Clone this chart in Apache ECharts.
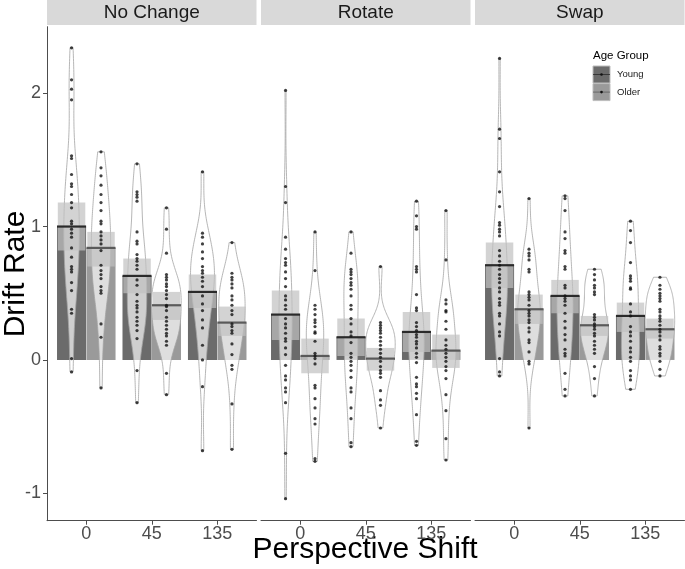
<!DOCTYPE html>
<html><head><meta charset="utf-8">
<script src="https://cdn.jsdelivr.net/npm/echarts@6/dist/echarts.min.js"></script>
<style>html,body{margin:0;padding:0;background:#fff}#c{width:685px;height:569px}</style>
</head><body><div id="c"></div><script>
const panels = ['No Change', 'Rotate', 'Swap'];
const shiftLabels = ['0', '45', '135'];
const groups = ['Young', 'Older'];
const yTicks = [-1, 0, 1, 2];

// per panel (No Change, Rotate, Swap), per shift (0, 45, 135)
const meanYoung   = [[1.00, 0.63, 0.51], [0.34, 0.17, 0.21], [0.71, 0.48, 0.33]];
const meanOlder   = [[0.84, 0.41, 0.28], [0.03, 0.01, 0.07], [0.38, 0.26, 0.23]];
const ciLowYoung  = [[0.82, 0.50, 0.39], [0.15, 0.03, 0.06], [0.54, 0.35, 0.21]];
const ciHighYoung = [[1.18, 0.76, 0.64], [0.52, 0.31, 0.36], [0.88, 0.60, 0.43]];
const ciLowOlder  = [[0.70, 0.30, 0.18], [-0.10, -0.08, -0.06], [0.27, 0.18, 0.16]];
const ciHighOlder = [[0.96, 0.51, 0.40], [0.16, 0.09, 0.19], [0.49, 0.33, 0.31]];

const noChangeYoung = [
  [2.34,2.10,2.03,1.95,1.53,1.51,1.39,1.32,1.30,1.24,1.18,1.14,1.04,1.02,0.98,0.95,0.92,0.84,0.77,0.70,0.68,0.66,0.58,0.52,0.38,0.35,0.01,-0.09],
  [1.47,1.26,1.24,1.22,1.19,0.96,0.89,0.87,0.79,0.76,0.74,0.71,0.68,0.60,0.56,0.49,0.44,0.41,0.39,0.36,0.32,0.29,0.26,0.22,0.16,-0.08,-0.32],
  [1.41,0.95,0.92,0.87,0.81,0.76,0.70,0.67,0.65,0.62,0.59,0.55,0.48,0.42,0.37,0.30,0.24,0.11,0.00,-0.20,-0.68]
];
const noChangeOlder = [
  [1.56,1.44,1.38,1.31,1.24,1.18,1.12,1.04,1.02,0.96,0.93,0.90,0.87,0.82,0.71,0.67,0.64,0.61,0.55,0.52,0.50,0.27,0.17,-0.21],
  [1.14,0.98,0.80,0.64,0.62,0.60,0.57,0.55,0.52,0.49,0.46,0.41,0.40,0.37,0.32,0.29,0.26,0.23,0.20,0.18,0.14,0.11,-0.10,-0.26],
  [0.88,0.65,0.62,0.60,0.57,0.54,0.48,0.45,0.41,0.37,0.34,0.27,0.25,0.22,0.20,0.12,0.04,-0.04,-0.07,-0.33,-0.67]
];
const rotateYoung = [
  [2.02,1.30,1.18,0.92,0.83,0.76,0.73,0.71,0.66,0.61,0.55,0.48,0.45,0.41,0.38,0.31,0.27,0.24,0.20,0.16,0.14,0.09,0.04,-0.04,-0.12,-0.15,-0.21,-0.24,-0.32,-0.70,-1.04],
  [0.96,0.80,0.68,0.66,0.64,0.61,0.58,0.56,0.53,0.48,0.41,0.38,0.31,0.27,0.21,0.18,0.13,0.05,0.02,-0.01,-0.04,-0.08,-0.13,-0.21,-0.24,-0.36,-0.44,-0.62,-0.65],
  [1.19,1.08,1.00,0.98,0.70,0.68,0.66,0.49,0.39,0.37,0.28,0.25,0.22,0.19,0.17,0.14,0.12,0.09,0.05,0.02,-0.02,-0.13,-0.18,-0.20,-0.25,-0.29,-0.41,-0.61,-0.64]
];
const rotateOlder = [
  [0.96,0.67,0.41,0.38,0.34,0.30,0.28,0.25,0.21,0.20,0.14,0.05,0.03,0.01,-0.03,-0.19,-0.21,-0.29,-0.36,-0.44,-0.48,-0.74,-0.76],
  [0.70,0.28,0.26,0.24,0.22,0.20,0.17,0.14,0.11,0.08,0.05,0.02,-0.01,-0.05,-0.08,-0.10,-0.13,-0.23,-0.30,-0.34,-0.51],
  [1.12,0.75,0.45,0.42,0.37,0.36,0.29,0.23,0.15,0.11,0.08,0.05,0.02,-0.01,-0.05,-0.08,-0.14,-0.26,-0.38,-0.59,-0.75]
];
const swapYoung = [
  [2.26,1.73,1.66,1.41,1.26,1.15,1.03,1.01,0.98,0.96,0.93,0.82,0.78,0.74,0.71,0.68,0.64,0.61,0.58,0.54,0.51,0.46,0.43,0.41,0.35,0.33,0.27,0.21,0.18,0.01,-0.09,-0.12],
  [1.23,1.21,1.12,0.96,0.91,0.82,0.80,0.70,0.68,0.56,0.54,0.48,0.46,0.44,0.41,0.35,0.29,0.24,0.19,0.15,0.08,0.05,0.03,-0.10,-0.22,-0.27],
  [1.04,0.97,0.88,0.73,0.63,0.61,0.59,0.54,0.53,0.42,0.36,0.33,0.25,0.21,0.18,0.14,0.09,0.06,0.02,-0.01,-0.08,-0.12,-0.15,-0.22]
];
const swapOlder = [
  [1.21,0.83,0.80,0.78,0.75,0.68,0.66,0.51,0.49,0.47,0.45,0.41,0.37,0.35,0.33,0.30,0.28,0.24,0.21,0.15,0.13,0.06,-0.01,-0.03,-0.51],
  [0.68,0.64,0.60,0.56,0.54,0.51,0.49,0.34,0.32,0.30,0.27,0.25,0.23,0.20,0.18,0.14,0.11,0.08,0.05,-0.05,-0.14,-0.27],
  [0.62,0.56,0.53,0.50,0.48,0.46,0.44,0.38,0.36,0.33,0.31,0.29,0.26,0.23,0.21,0.18,0.15,0.10,0.08,0.05,0.03,-0.01,-0.07,-0.12]
];

const pointsByPanel = [[noChangeYoung, noChangeOlder], [rotateYoung, rotateOlder], [swapYoung, swapOlder]];

// ---------- derived shapes (kernel density, ggplot-like) ----------
function quantile(sorted, p) {
  const h = (sorted.length - 1) * p, lo = Math.floor(h), hi = Math.ceil(h);
  return sorted[lo] + (h - lo) * (sorted[hi] - sorted[lo]);
}
function bwNrd0(x) {
  const n = x.length, m = x.reduce((a, b) => a + b, 0) / n;
  const sd = Math.sqrt(x.reduce((a, b) => a + (b - m) * (b - m), 0) / (n - 1));
  const s = x.slice().sort((a, b) => a - b);
  const iqr = quantile(s, 0.75) - quantile(s, 0.25);
  let lo = Math.min(sd, iqr / 1.34);
  if (!(lo > 0)) lo = sd || 1;
  return 0.9 * lo * Math.pow(n, -0.2);
}
function kde(x, nPts) {
  const bw = bwNrd0(x), n = x.length;
  const mn = Math.min(...x), mx = Math.max(...x);
  const out = [];
  for (let i = 0; i < nPts; i++) {
    const y = mn + (mx - mn) * i / (nPts - 1);
    let d = 0;
    for (const v of x) { const z = (y - v) / bw; d += Math.exp(-0.5 * z * z); }
    out.push([y, d / (n * bw * Math.sqrt(2 * Math.PI))]);
  }
  return out;
}
const DODGE = 0.225;
function groupX(s, g) { return s + (g ? DODGE : -DODGE); }

const violinShapes = pointsByPanel.map(pp => {
  const dens = [0, 1, 2].map(s => [0, 1].map(g => kde(pp[g][s], 120)));
  let maxD = 0;
  dens.forEach(a => a.forEach(d => d.forEach(q => { if (q[1] > maxD) maxD = q[1]; })));
  return dens.map((a, s) => a.map((d, g) => {
    const xc = groupX(s, g);
    const right = d.map(q => [xc + DODGE * q[1] / maxD, q[0]]);
    const left = d.slice().reverse().map(q => [xc - DODGE * q[1] / maxD, q[0]]);
    return right.concat(left);
  }));
});

// ---------- layout ----------
const gridLefts = [47, 261, 475];
const gridW = 209.5;
const gridTop = 26.7, gridH = 494;
const Y_MIN = -1.205, Y_MAX = 2.498;
const FONT = '"Liberation Sans", Arial, sans-serif';
const barFill = ['#6b6b6b', '#9a9a9a'];
const meanStroke = ['#2a2a2a', '#5a5a5a'];
const axisCol = '#4d4d4d';

const grids = [], xAxes = [], yAxes = [], series = [];
panels.forEach((name, p) => {
  grids.push({ left: gridLefts[p], top: gridTop, width: gridW, height: gridH, containLabel: false, outerBoundsMode: 'none' });
  xAxes.push({
    type: 'value', gridIndex: p, min: -0.6, max: 2.6,
    axisLine: { show: true, onZero: false, lineStyle: { color: axisCol, width: 1 } },
    axisTick: { show: true, length: 4, customValues: [0, 1, 2], lineStyle: { color: axisCol } },
    axisLabel: { show: true, customValues: [0, 1, 2], formatter: v => shiftLabels[Math.round(v)], fontSize: 18, color: axisCol, fontFamily: FONT, margin: 4 },
    splitLine: { show: false }
  });
  yAxes.push({
    type: 'value', gridIndex: p, min: Y_MIN, max: Y_MAX,
    axisLine: { show: p === 0, onZero: false, lineStyle: { color: axisCol, width: 1 } },
    axisTick: { show: p === 0, length: 4, customValues: yTicks, lineStyle: { color: axisCol } },
    axisLabel: { show: p === 0, customValues: yTicks, formatter: v => String(Math.round(v)), fontSize: 18, color: axisCol, fontFamily: FONT, margin: 6 },
    splitLine: { show: false }
  });

  const means = [meanYoung[p], meanOlder[p]];
  const lows = [ciLowYoung[p], ciLowOlder[p]];
  const highs = [ciHighYoung[p], ciHighOlder[p]];
  const items = [];
  [0, 1, 2].forEach(s => [0, 1].forEach(g => items.push([s, g, means[g][s], lows[g][s], highs[g][s]])));
  const common = { type: 'custom', xAxisIndex: p, yAxisIndex: p, silent: true, animation: false, data: items, encode: { x: 0, y: 2 } };

  series.push(Object.assign({}, common, {
    renderItem: (params, api) => {
      const s = api.value(0), g = api.value(1), m = api.value(2), xc = groupX(s, g);
      const a = api.coord([xc - 0.222, m]), b = api.coord([xc + 0.222, 0]);
      return { type: 'rect', shape: { x: a[0], y: Math.min(a[1], b[1]), width: b[0] - a[0], height: Math.abs(b[1] - a[1]) }, style: { fill: barFill[g] } };
    }
  }));
  series.push(Object.assign({}, common, {
    renderItem: (params, api) => {
      const s = api.value(0), g = api.value(1);
      const pts = violinShapes[p][s][g].map(q => api.coord(q));
      return { type: 'polygon', shape: { points: pts }, style: { fill: 'rgba(255,255,255,0.68)', stroke: '#a3a3a3', lineWidth: 0.8 } };
    }
  }));
  series.push(Object.assign({}, common, {
    renderItem: (params, api) => {
      const s = api.value(0), g = api.value(1), xc = groupX(s, g);
      const a = api.coord([xc - 0.21, api.value(4)]), b = api.coord([xc + 0.21, api.value(3)]);
      return { type: 'rect', shape: { x: a[0], y: a[1], width: b[0] - a[0], height: b[1] - a[1] }, style: { fill: 'rgba(192,192,192,0.7)' } };
    }
  }));
  series.push(Object.assign({}, common, {
    renderItem: (params, api) => {
      const s = api.value(0), g = api.value(1), xc = groupX(s, g), m = api.value(2);
      const a = api.coord([xc - 0.222, m]), b = api.coord([xc + 0.222, m]);
      return { type: 'line', shape: { x1: a[0], y1: a[1], x2: b[0], y2: b[1] }, style: { stroke: meanStroke[g], lineWidth: 2.2 } };
    }
  }));
  const pts = [];
  [0, 1].forEach(g => [0, 1, 2].forEach(s => pointsByPanel[p][g][s].forEach(v => pts.push([groupX(s, g), v]))));
  series.push({ type: 'scatter', xAxisIndex: p, yAxisIndex: p, silent: true, animation: false, data: pts, symbol: 'circle', symbolSize: 3.2, itemStyle: { color: '#111', borderWidth: 0 } });
});

// ---------- strips, titles, legend ----------
const graphic = [];
panels.forEach((name, p) => {
  graphic.push({ type: 'rect', shape: { x: gridLefts[p], y: 0, width: gridW, height: 25 }, style: { fill: '#d9d9d9' }, silent: true });
  graphic.push({ type: 'text', x: gridLefts[p] + gridW / 2, y: 13, style: { text: name, fontSize: 19, fontFamily: FONT, fill: '#1a1a1a', align: 'center', verticalAlign: 'middle' }, silent: true });
});
graphic.push({ type: 'text', x: 365, y: 550, style: { text: 'Perspective Shift', fontSize: 30, fontFamily: FONT, fill: '#000', align: 'center', verticalAlign: 'middle' }, silent: true });
graphic.push({ type: 'text', x: 16, y: 274, rotation: Math.PI / 2, style: { text: 'Drift Rate', fontSize: 30, fontFamily: FONT, fill: '#000', align: 'center', verticalAlign: 'middle' }, silent: true });
graphic.push({ type: 'text', x: 593, y: 56, style: { text: 'Age Group', fontSize: 11.5, fontFamily: FONT, fill: '#000', align: 'left', verticalAlign: 'middle' }, silent: true });
groups.forEach((gname, g) => {
  const y0 = 66 + g * 17.6;
  graphic.push({ type: 'rect', shape: { x: 593, y: y0, width: 17, height: 17 }, style: { fill: barFill[g], stroke: '#bdbdbd', lineWidth: 1 }, silent: true });
  graphic.push({ type: 'line', shape: { x1: 593, y1: y0 + 8.5, x2: 610, y2: y0 + 8.5 }, style: { stroke: meanStroke[g], lineWidth: 0.8 }, silent: true });
  graphic.push({ type: 'circle', shape: { cx: 601.5, cy: y0 + 8.5, r: 1.3 }, style: { fill: '#111' }, silent: true });
  graphic.push({ type: 'text', x: 617, y: y0 + 8.7, style: { text: gname, fontSize: 9.5, fontFamily: FONT, fill: '#1a1a1a', align: 'left', verticalAlign: 'middle' }, silent: true });
});

const chart = echarts.init(document.getElementById('c'), null, { renderer: 'canvas' });
chart.setOption({ animation: false, backgroundColor: '#fff', grid: grids, xAxis: xAxes, yAxis: yAxes, series: series, graphic: graphic });
</script></body></html>
